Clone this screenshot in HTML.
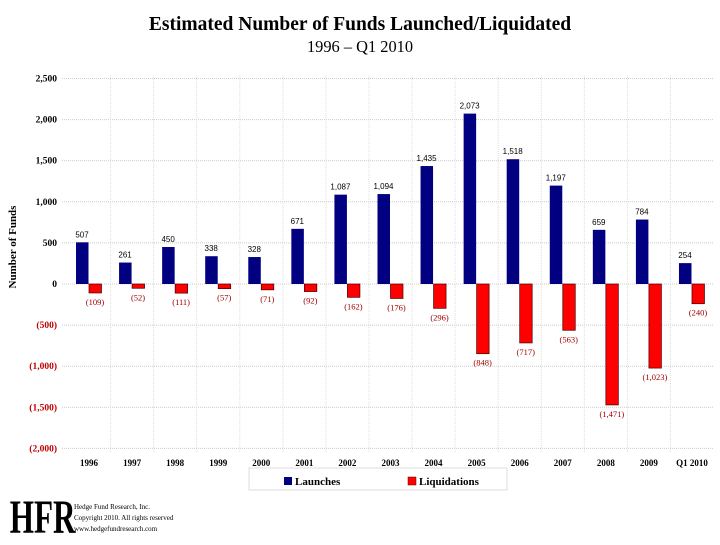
<!DOCTYPE html>
<html><head><meta charset="utf-8"><style>
body{margin:0;background:#fff;width:720px;height:540px;overflow:hidden;font-family:"Liberation Serif",serif}
</style></head><body>
<svg width="720" height="540" xmlns="http://www.w3.org/2000/svg" font-family="Liberation Serif, serif">
<text x="360" y="30" text-anchor="middle" font-size="19.5" font-weight="bold">Estimated Number of Funds Launched/Liquidated</text>
<text x="360" y="52" text-anchor="middle" font-size="16.4">1996 – Q1 2010</text>
<text transform="translate(16,247) rotate(-90)" text-anchor="middle" font-size="11" font-weight="bold">Number of Funds</text>
<g id="grid"></g><g id="bars"></g><g id="labels"></g>
<rect x="249" y="468" width="258" height="22" fill="none" stroke="#ddd"/>
<rect x="284" y="477" width="8" height="8" fill="#000080"/>
<text x="295" y="485" font-size="11" font-weight="bold">Launches</text>
<rect x="408" y="477" width="8" height="8" fill="#ff0000" stroke="#600" stroke-width="0.5"/>
<text x="419" y="485" font-size="11" font-weight="bold">Liquidations</text>
<text x="15" y="533" font-size="48" font-weight="bold" transform="scale(0.65,1)">HFR</text>
<text x="74" y="509" font-size="7">Hedge Fund Research, Inc.</text>
<text x="74" y="520" font-size="7">Copyright 2010. All rights reserved</text>
<text x="74" y="531" font-size="7">www.hedgefundresearch.com</text>
</svg>
<script>
const categories=["1996","1997","1998","1999","2000","2001","2002","2003","2004","2005","2006","2007","2008","2009","Q1 2010"];
const launches=[507,261,450,338,328,671,1087,1094,1435,2073,1518,1197,659,784,254];
const liquidations=[109,52,111,57,71,92,162,176,296,848,717,563,1471,1023,240];
const yTicks=[2500,2000,1500,1000,500,0,-500,-1000,-1500,-2000];
const NS="http://www.w3.org/2000/svg";
const y=v=>284-v*0.0822;
const xc=i=>89+i*43.07;
function mk(t,a,p,txt){const e=document.createElementNS(NS,t);for(const k in a)e.setAttribute(k,a[k]);if(txt!=null)e.textContent=txt;document.getElementById(p).appendChild(e);return e;}
const fmt=v=>Math.abs(v).toLocaleString('en-US');
yTicks.forEach(v=>{
 const l=mk('line',{x1:62,x2:713,y1:y(v),y2:y(v),stroke:'#ccc','stroke-dasharray':'1,1'},'grid');
 
 
 const t=mk('text',{x:57,y:y(v)+3,'text-anchor':'end','font-size':9.5,'font-weight':'bold',fill:v<0?'#c00000':'#000'},'grid',v<0?'('+fmt(v)+')':fmt(v));
 
 
});
for(let i=1;i<categories.length;i++){
 const l=mk('line',{x1:xc(i)-21.5,x2:xc(i)-21.5,y1:75,y2:452,stroke:'#ddd','stroke-dasharray':'1,1'},'grid');
 
 
}
categories.forEach((c,i)=>{
 const x=xc(i);
 const b=mk('rect',{x:x-13,y:y(launches[i]),width:12.5,height:y(0)-y(launches[i]),fill:'#000080'},'bars');
 
 
 const r=mk('rect',{x:x,y:y(0),width:12.5,height:y(-liquidations[i])-y(0),fill:'#ff0000',stroke:'#400',"stroke-width":0.7},'bars');
 
 
 const t1=mk('text',{x:x-7,y:y(launches[i])-5,'text-anchor':'middle','font-size':8,fill:'#000','font-family':'Liberation Sans, sans-serif'},'labels',fmt(launches[i]));
 
 
 const t2=mk('text',{x:x+6,y:y(-liquidations[i])+12,'text-anchor':'middle','font-size':8.5,fill:'#a00000'},'labels','('+fmt(liquidations[i])+')');
 
 
 const t3=mk('text',{x:x,y:466,'text-anchor':'middle','font-size':9,'font-weight':'bold'},'labels',c);
 
 
});
</script>
</body></html>
